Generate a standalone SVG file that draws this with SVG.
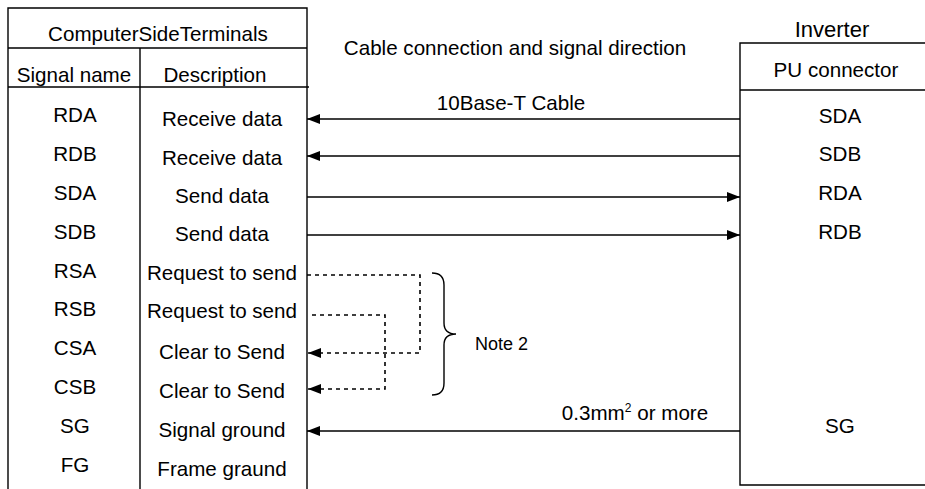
<svg xmlns="http://www.w3.org/2000/svg" width="925" height="489" viewBox="0 0 925 489">
<defs>
<style>
text{font-family:"Liberation Sans",Arial,sans-serif;font-size:20.6px;fill:#000;text-anchor:middle}
.ln{stroke:#000;stroke-width:1.4;fill:none}
.dash{stroke:#000;stroke-width:1.6;fill:none;stroke-dasharray:4 4}
.note{font-size:18px;text-anchor:start}
</style>
<marker id="ah" viewBox="0 0 13 10" refX="13" refY="5" markerWidth="13" markerHeight="10" markerUnits="userSpaceOnUse" orient="auto">
<path d="M0,0 L13,5 L0,10 Z" fill="#000"/>
</marker>
</defs>
<rect width="925" height="489" fill="#fff"/>

<g id="computer-table">
<path class="ln" d="M8,489 V8 H307 V489 M8,48 H307 M8,87 H309 M140,48 V489"/>
<text x="158" y="41">ComputerSideTerminals</text>
<text x="74" y="82">Signal name</text>
<text x="215" y="82">Description</text>
</g>
<g id="computer-rows">
<text x="75" y="122">RDA</text><text x="222" y="126">Receive data</text>
<text x="75" y="161">RDB</text><text x="222" y="164.5">Receive data</text>
<text x="75" y="200">SDA</text><text x="222" y="203">Send data</text>
<text x="75" y="239">SDB</text><text x="222" y="241">Send data</text>
<text x="75" y="278">RSA</text><text x="222" y="280">Request to send</text>
<text x="75" y="316">RSB</text><text x="222" y="318">Request to send</text>
<text x="75" y="355">CSA</text><text x="222" y="359">Clear to Send</text>
<text x="75" y="394">CSB</text><text x="222" y="398">Clear to Send</text>
<text x="75" y="433">SG</text><text x="222" y="437">Signal ground</text>
<text x="75" y="472">FG</text><text x="222" y="476">Frame graund</text>
</g>

<g id="title">
<text x="515" y="55">Cable connection and signal direction</text>
</g>

<g id="inverter">
<text x="832" y="37" style="font-size:22px">Inverter</text>
<path class="ln" d="M925,43 H740 V485 H925 M740,90 H925"/>
<text x="836" y="77">PU connector</text>
<text x="840" y="123">SDA</text>
<text x="840" y="161">SDB</text>
<text x="840" y="200">RDA</text>
<text x="840" y="239">RDB</text>
<text x="840" y="433">SG</text>
</g>

<g id="connectors">
<path class="ln" d="M740,119 H307" marker-end="url(#ah)"/>
<path class="ln" d="M740,156 H307" marker-end="url(#ah)"/>
<path class="ln" d="M307,197 H740" marker-end="url(#ah)"/>
<path class="ln" d="M307,235 H740" marker-end="url(#ah)"/>
<path class="ln" d="M740,431 H307" marker-end="url(#ah)"/>
<path class="dash" d="M307,275 H420 V353 H320"/>
<path class="ln" d="M320,353 H308" marker-end="url(#ah)"/>
<path class="dash" d="M312,315 H385 V389 H320"/>
<path class="ln" d="M320,389 H308" marker-end="url(#ah)"/>
<text x="511" y="110">10Base-T Cable</text>
<text x="635" y="420">0.3mm<tspan dy="-8" style="font-size:12px">2</tspan><tspan dy="8"> or more</tspan></text>
</g>

<g id="note">
<path class="ln" d="M432,273 Q444,273 444,285 V323 Q444,334 456,334 Q444,334 444,345 V383 Q444,395 432,395"/>
<text class="note" x="475" y="350">Note 2</text>
</g>
</svg>
